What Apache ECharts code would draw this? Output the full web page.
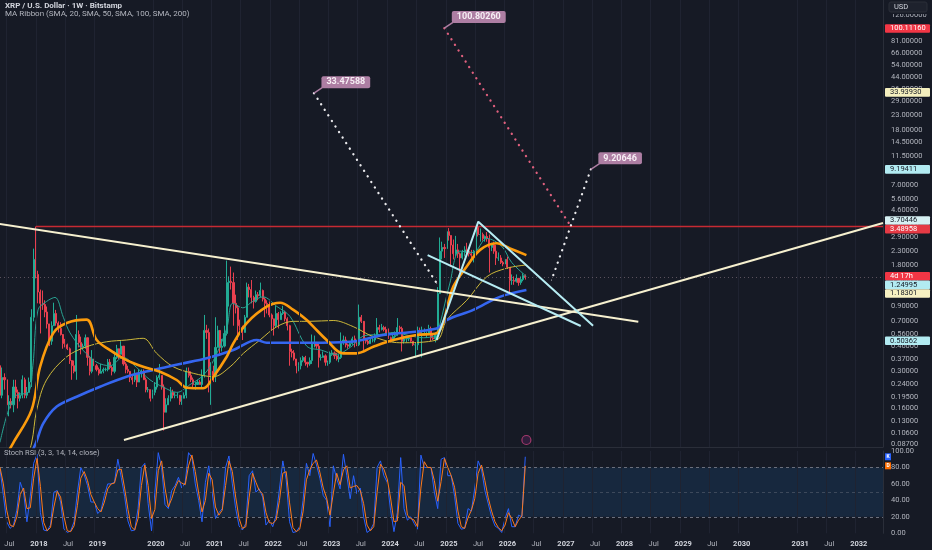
<!DOCTYPE html>
<html><head><meta charset="utf-8">
<script src="https://cdn.jsdelivr.net/npm/echarts@6/dist/echarts.min.js"></script>
<style>html,body{margin:0;padding:0;background:#161a25;}#c{width:932px;height:550px;}</style>
</head><body><div id="c"></div>
<script>
// ---------- DATA ----------
const candleStart = '2017-05-22';
const candleStepDays = 14;
const firstOpen = 0.33;
const closes = [
0.20,0.27,0.26,0.17,0.18,0.17,0.23,0.21,0.19,0.20,0.26,0.20,0.21,0.25,0.75,2.0,
1.55,1.15,0.95,0.93,0.82,0.67,0.50,0.65,0.80,0.68,0.62,0.56,0.48,0.47,0.44,0.36,0.33,0.30,0.56,0.49,0.45,0.46,0.53,0.38,0.30,0.37,0.33,
0.31,0.29,0.30,0.31,0.31,0.35,0.32,0.30,0.38,0.44,0.40,0.46,0.34,0.31,0.30,0.27,0.26,0.29,0.25,0.29,0.30,0.26,0.22,0.22,0.19,0.21,
0.23,0.27,0.28,0.23,0.15,0.17,0.19,0.21,0.20,0.20,0.20,0.18,0.19,0.20,0.30,0.28,0.26,0.24,0.24,0.25,0.24,0.28,0.60,0.58,0.28,0.30,
0.28,0.45,0.60,0.45,0.46,0.57,1.35,1.38,1.35,0.95,0.88,0.65,0.63,0.58,0.75,1.25,1.20,1.05,0.98,1.10,1.08,1.18,1.02,0.95,0.93,0.78,
0.73,0.65,0.80,0.72,0.80,0.82,0.73,0.65,0.42,0.41,0.37,0.33,0.33,0.36,0.38,0.35,0.34,0.36,0.48,0.49,0.46,0.38,0.38,0.39,0.35,0.35,
0.40,0.41,0.39,0.37,0.38,0.50,0.51,0.47,0.46,0.48,0.52,0.49,0.47,0.75,0.70,0.52,0.50,0.48,0.51,0.51,0.55,0.63,0.61,0.63,0.61,0.57,
0.53,0.50,0.54,0.55,0.63,0.62,0.50,0.52,0.52,0.53,0.50,0.47,0.47,0.60,0.57,0.57,0.57,0.57,0.62,0.53,0.52,0.55,1.12,2.30,2.45,2.40,
3.20,3.00,2.55,2.20,2.35,2.20,2.05,2.25,2.35,2.30,2.20,2.15,2.30,3.45,3.05,3.05,2.85,2.95,2.85,2.45,2.55,2.30,2.05,2.05,1.90,1.85,
2.00,1.75,1.40,1.40,1.38,1.45,1.35,1.42,1.52,1.48];
const highs = [
0.33,0.32,0.29,0.27,0.20,0.19,0.26,0.26,0.22,0.21,0.28,0.27,0.23,0.27,0.86,2.4,
3.49,1.65,1.20,1.18,1.00,0.90,0.66,0.70,0.96,0.85,0.70,0.69,0.55,0.52,0.48,0.45,0.35,0.36,0.78,0.60,0.54,0.48,0.56,0.53,0.39,0.43,0.38,
0.34,0.32,0.34,0.32,0.32,0.37,0.37,0.33,0.42,0.47,0.44,0.50,0.45,0.35,0.33,0.30,0.28,0.31,0.29,0.31,0.31,0.31,0.27,0.23,0.22,0.22,
0.25,0.28,0.34,0.28,0.24,0.19,0.20,0.23,0.22,0.21,0.21,0.20,0.20,0.21,0.32,0.32,0.30,0.27,0.25,0.26,0.26,0.31,0.78,0.66,0.62,0.35,
0.33,0.75,0.65,0.55,0.52,0.65,1.96,1.50,1.77,1.60,1.10,0.92,0.72,0.65,0.78,1.35,1.32,1.41,1.08,1.18,1.15,1.35,1.20,1.05,1.00,0.98,
0.80,0.68,0.91,0.82,0.83,0.91,0.84,0.75,0.66,0.44,0.43,0.37,0.35,0.38,0.39,0.39,0.35,0.38,0.56,0.55,0.49,0.48,0.40,0.42,0.40,0.36,
0.42,0.43,0.42,0.41,0.40,0.58,0.55,0.54,0.48,0.49,0.54,0.55,0.50,0.93,0.78,0.66,0.53,0.51,0.52,0.55,0.57,0.74,0.66,0.67,0.65,0.64,
0.62,0.54,0.56,0.59,0.74,0.65,0.64,0.55,0.54,0.54,0.53,0.50,0.49,0.64,0.63,0.64,0.62,0.59,0.66,0.64,0.56,0.58,1.25,2.90,2.70,2.60,
3.40,3.40,3.00,2.80,2.98,2.60,2.25,2.35,2.50,2.65,2.40,2.35,2.35,3.65,3.60,3.38,3.15,3.00,3.18,3.05,2.65,2.70,2.55,2.25,2.15,1.95,
2.40,2.10,1.75,1.55,1.50,1.55,1.45,1.50,1.58,1.55];
const lows = [
0.16,0.19,0.22,0.16,0.14,0.16,0.15,0.19,0.16,0.18,0.19,0.19,0.19,0.21,0.23,0.70,
1.45,0.95,0.57,0.85,0.75,0.62,0.46,0.47,0.73,0.65,0.58,0.55,0.44,0.45,0.43,0.34,0.26,0.29,0.26,0.45,0.40,0.44,0.44,0.33,0.28,0.29,0.32,
0.30,0.28,0.29,0.29,0.30,0.30,0.31,0.28,0.29,0.37,0.37,0.40,0.33,0.29,0.29,0.25,0.24,0.25,0.23,0.25,0.27,0.26,0.21,0.21,0.18,0.19,
0.20,0.22,0.26,0.22,0.11,0.15,0.17,0.18,0.19,0.19,0.19,0.17,0.17,0.19,0.19,0.27,0.25,0.23,0.22,0.24,0.24,0.23,0.27,0.52,0.21,0.17,
0.25,0.25,0.45,0.40,0.42,0.45,0.55,0.90,1.20,0.65,0.80,0.51,0.60,0.51,0.58,0.75,1.05,0.95,0.87,0.96,1.00,1.05,0.98,0.75,0.80,0.75,
0.60,0.55,0.63,0.62,0.72,0.78,0.70,0.60,0.33,0.38,0.36,0.29,0.30,0.31,0.35,0.33,0.32,0.33,0.34,0.45,0.44,0.32,0.36,0.38,0.33,0.33,
0.34,0.39,0.37,0.36,0.35,0.37,0.47,0.45,0.44,0.45,0.47,0.45,0.46,0.46,0.68,0.43,0.48,0.47,0.48,0.49,0.49,0.55,0.58,0.60,0.59,0.56,
0.52,0.49,0.50,0.52,0.55,0.57,0.42,0.48,0.49,0.50,0.49,0.46,0.38,0.43,0.55,0.38,0.55,0.53,0.56,0.50,0.51,0.49,0.55,1.35,2.00,2.05,
2.25,2.75,1.77,2.00,2.10,2.05,1.61,2.00,2.10,2.15,2.10,2.00,1.90,2.28,2.95,2.70,2.75,2.70,2.70,1.60,2.30,2.20,1.82,1.95,1.85,1.78,
1.82,1.70,1.12,1.30,1.30,1.35,1.28,1.30,1.38,1.42];

const sma20Pts = [['2017-05-22',0.09],['2017-07-10',0.15],['2017-09-01',0.2],['2017-11-15',0.21],['2017-12-13',0.33],['2018-01-14',0.85],['2018-03-08',0.98],['2018-04-30',1.05],['2018-06-21',0.75],['2018-08-02',0.575],['2018-10-21',0.43],['2019-01-15',0.35],['2019-04-08',0.33],['2019-06-28',0.38],['2019-09-21',0.32],['2019-12-13',0.26],['2020-03-04',0.23],['2020-05-29',0.21],['2020-08-20',0.24],['2020-11-09',0.28],['2021-01-12',0.36],['2021-04-05',0.62],['2021-05-12',0.95],['2021-07-14',0.88],['2021-09-13',0.98],['2021-11-17',1.06],['2022-02-12',0.9],['2022-05-05',0.76],['2022-08-17',0.46],['2022-11-15',0.43],['2023-02-15',0.40],['2023-05-15',0.45],['2023-08-15',0.55],['2023-11-15',0.56],['2024-02-15',0.58],['2024-05-15',0.55],['2024-08-15',0.53],['2024-11-04',0.56],['2024-11-24',0.66],['2025-01-26',1.34],['2025-03-29',2.3],['2025-06-20',2.25],['2025-09-13',2.85],['2025-12-15',2.5],['2026-02-15',1.9],['2026-05-18',1.5]];
const sma50Pts = [['2017-05-22',0.06],['2017-08-12',0.089],['2017-12-05',0.156],['2018-01-27',0.324],['2018-04-19',0.573],['2018-07-12',0.68],['2018-11-13',0.72],['2019-01-15',0.51],['2019-04-08',0.43],['2019-07-20',0.363],['2019-11-01',0.324],['2020-02-14',0.298],['2020-05-28',0.259],['2020-07-30',0.227],['2020-11-10',0.225],['2021-01-12',0.274],['2021-04-05',0.384],['2021-05-16',0.482],['2021-08-08',0.68],['2021-12-10',0.897],['2022-03-04',0.96],['2022-05-26',0.85],['2022-08-17',0.716],['2022-09-27',0.64],['2022-12-19',0.51],['2023-04-01',0.407],['2023-06-24',0.407],['2023-10-06',0.455],['2024-02-08',0.51],['2024-07-02',0.555],['2024-11-04',0.573],['2025-02-16',1.26],['2025-05-11',1.77],['2025-08-02',2.35],['2025-11-13',2.63],['2026-02-04',2.41],['2026-05-18',2.15]];
const sma100Pts = [['2017-10-01',0.05],['2017-12-05',0.089],['2018-01-06',0.156],['2018-03-08',0.259],['2018-07-12',0.384],['2018-11-13',0.455],['2019-03-18',0.495],['2019-07-20',0.51],['2019-11-01',0.525],['2020-01-24',0.407],['2020-05-07',0.324],['2020-09-09',0.29],['2021-01-12',0.274],['2021-04-26',0.324],['2021-07-18',0.407],['2021-10-29',0.51],['2022-02-12',0.64],['2022-05-26',0.70],['2022-09-06',0.70],['2023-01-29',0.71],['2023-06-03',0.64],['2023-10-06',0.54],['2024-03-20',0.487],['2024-11-04',0.51],['2025-01-06',0.716],['2025-05-11',1.00],['2025-09-13',1.49],['2026-01-14',1.72],['2026-05-18',1.82]];
const sma200Pts = [['2017-10-26',0.06],['2018-01-01',0.089],['2018-02-16',0.124],['2018-05-11',0.165],['2018-09-12',0.195],['2019-02-05',0.231],['2019-07-20',0.274],['2020-01-03',0.307],['2020-06-18',0.34],['2020-12-01',0.374],['2021-05-16',0.43],['2021-10-09',0.51],['2021-12-10',0.487],['2022-09-05',0.487],['2023-05-13',0.495],['2023-12-07',0.555],['2024-11-04',0.62],['2025-01-06',0.716],['2025-06-21',0.85],['2025-12-03',1.06],['2026-05-18',1.19]];

const stochStart = '2017-05-22';
const stochStepDays = 21;
const stochK = [78,46,14,6,10,28,62,50,14,45,85,96,25,4,3,10,50,52,38,5,1,3,14,50,80,71,58,38,38,24,28,46,60,60,62,90,68,45,15,3,4,30,80,85,36,3,50,98,80,35,30,52,58,68,55,62,98,92,60,40,14,62,82,50,18,25,30,80,94,60,30,9,4,12,70,76,50,54,44,10,16,8,22,54,88,65,14,1,2,8,40,85,70,97,83,67,46,40,8,82,66,54,96,70,42,70,48,55,20,1,4,12,80,88,70,62,28,2,25,92,30,16,20,12,5,95,80,80,80,50,30,90,92,70,70,45,12,5,6,30,27,55,88,78,52,36,20,9,6,1,18,30,8,8,22,20,93];
const stochD = [80,60,28,10,8,20,47,55,30,31,67,91,57,13,3,7,32,51,44,20,3,2,9,34,67,75,64,47,38,30,26,38,54,60,61,77,78,55,29,8,4,18,58,83,58,18,29,76,88,55,32,42,55,64,61,59,82,95,75,49,26,40,73,65,32,22,28,58,88,75,44,18,6,8,44,73,62,52,48,25,13,12,16,40,73,75,37,7,2,5,26,65,77,85,89,74,55,43,22,49,73,59,77,82,55,57,58,52,36,10,3,8,50,84,78,66,43,14,15,62,58,22,18,16,8,55,87,80,80,64,39,63,91,80,70,56,27,8,6,19,28,42,73,83,64,43,27,14,7,3,10,25,18,8,16,21,82];

const priceTicks = [126,100,81,66,54,44,36,29,23,18,14.5,11.5,9,7,5.6,4.6,3.6,2.9,2.3,1.8,1.4,1.1,0.9,0.7,0.56,0.46,0.37,0.3,0.24,0.195,0.16,0.13,0.106,0.087];
const timeTicks = ['2017-07-01','2018-01-01','2018-07-01','2019-01-01','2020-01-01','2020-07-01','2021-01-01','2021-07-01','2022-01-01','2022-07-01','2023-01-01','2023-07-01','2024-01-01','2024-07-01','2025-01-01','2025-07-01','2026-01-01','2026-07-01','2027-01-01','2027-07-01','2028-01-01','2028-07-01','2029-01-01','2029-07-01','2030-01-01','2031-01-01','2031-07-01','2032-01-01'];

const trendDown = [['2017-01-17',3.84],['2028-04-15',0.696]];
const trendUp = [['2019-07-04',0.0937],['2032-06-19',3.70446]];
const resistanceLevel = 3.48958;
const resistanceFrom = '2018-01-01';
const wedgeMain = [['2024-11-04',0.51],['2025-07-22',3.79],['2027-07-08',0.65]];
const wedgeInner = [['2024-09-09',2.15],['2027-04-22',0.647]];
const pathTo33 = [['2022-10-01',33.47588],['2024-11-04',1.34]];
const pathTo100 = [['2024-12-22',100.8026],['2027-02-20',3.49]];
const pathTo9 = [['2027-06-24',9.20646],['2026-10-22',1.41]];
const lastPrice = 1.48;
const eventIcon = ['2026-05-18',0.0937];

const scaleBoxes = [
  {v:100.1116, t:'100.11160', bg:'#f23645', fg:'#ffffff'},
  {v:33.9393, t:'33.93930', bg:'#f4efbe', fg:'#131722'},
  {v:9.19411, t:'9.19411', bg:'#b2ebf2', fg:'#131722'},
  {v:3.70446, t:'3.70446', bg:'#d6f1f4', fg:'#131722'},
  {v:3.48958, t:'3.48958', bg:'#e53a45', fg:'#ffffff'},
  {v:1.48, t:'4d 17h', bg:'#f23645', fg:'#ffffff'},
  {v:1.24995, t:'1.24995', bg:'#b2ebf2', fg:'#131722'},
  {v:1.18301, t:'1.18301', bg:'#f7f1c2', fg:'#131722'},
  {v:0.50362, t:'0.50362', bg:'#b2ebf2', fg:'#131722'}
];

// ---------- BUILD ----------
const DAY = 864e5;
const ts = s => Date.parse(s + 'T00:00:00Z');
const t0 = ts(candleStart);
const candles = closes.map((c, i) => {
  const o = i === 0 ? firstOpen : closes[i - 1];
  return [t0 + i * candleStepDays * DAY, o, c, lows[i], highs[i]];
});
const pts = a => a.map(p => [ts(p[0]), p[1]]);
const s0 = ts(stochStart);
const kData = stochK.map((v, i) => [s0 + i * stochStepDays * DAY, v]);
const dData = stochD.map((v, i) => [s0 + i * stochStepDays * DAY, v]);
const xMin = ts('2017-05-22'), xMax = ts('2032-06-19');
const FONT = 'Roboto, "Noto Sans", sans-serif';
const CALLOUT = '#ad7ea3';

const chart = echarts.init(document.getElementById('c'), null, {renderer: 'canvas'});
const vLines = timeTicks.map(d => ({xAxis: ts(d)}));
const dotted = (data, color, lbl) => ({
  type: 'line', xAxisIndex: 0, yAxisIndex: 0, data: data.map((p, i) => {
    const item = {value: [ts(p[0]), p[1]]};
    if (i === 0 && lbl) item.label = {show: true, position: 'right', distance: 7, offset: [0, -11], formatter: lbl,
      backgroundColor: CALLOUT, color: '#f6eef4', fontSize: 9, fontWeight: 'bold', fontFamily: FONT, padding: [2, 5, 1, 5], borderRadius: 2};
    return item;
  }),
  symbol: 'circle', symbolSize: 1, showSymbol: true, itemStyle: {color: color},
  lineStyle: {color: color, width: 2.3, type: [0.1, 6.5], cap: 'round'}, z: 6, silent: true
});
const solid = (data, color, w, z) => ({
  type: 'line', xAxisIndex: 0, yAxisIndex: 0, data: pts(data), showSymbol: false,
  lineStyle: {color: color, width: w}, z: z || 5, silent: true
});
const ma = (data, color, w) => ({
  type: 'line', xAxisIndex: 0, yAxisIndex: 0, data: pts(data), showSymbol: false, smooth: 0.35,
  lineStyle: {color: color, width: w}, z: 4, silent: true
});

const option = {
  backgroundColor: '#161a25',
  animation: false,
  grid: [
    {left: 0, right: 49, top: 0, height: 447},
    {left: 0, right: 49, top: 451, height: 82.3}
  ],
  xAxis: [
    {type: 'time', gridIndex: 0, min: xMin, max: xMax, axisLabel: {show: false}, axisTick: {show: false},
     axisLine: {show: true, lineStyle: {color: '#2a2e39'}}, splitLine: {show: false}},
    {type: 'time', gridIndex: 1, min: xMin, max: xMax, axisTick: {show: false}, axisLabel: {show: false},
     axisLine: {show: false}, splitLine: {show: false}}
  ],
  yAxis: [
    {type: 'log', logBase: 10, gridIndex: 0, position: 'right', min: 0.0832, max: 162.3,
     axisLabel: {show: false}, axisTick: {show: false}, splitLine: {show: false},
     axisLine: {show: true, lineStyle: {color: '#2a2e39'}}},
    {type: 'value', gridIndex: 1, position: 'right', min: 0, max: 100, interval: 20,
     axisLabel: {color: '#b2b5be', fontSize: 7.5, fontFamily: FONT, margin: 8, formatter: v => v.toFixed(2)},
     axisTick: {show: false}, splitLine: {show: false}, axisLine: {show: true, lineStyle: {color: '#2a2e39'}}}
  ],
  series: [
    {type: 'line', xAxisIndex: 0, yAxisIndex: 0, data: [], silent: true,
     markLine: {silent: true, symbol: 'none', label: {show: false}, lineStyle: {color: '#1f2331', width: 1, type: 'solid'}, data: vLines}},
    {type: 'line', xAxisIndex: 1, yAxisIndex: 1, data: [], silent: true,
     markLine: {silent: true, symbol: 'none', label: {show: false}, lineStyle: {color: '#1f2331', width: 1, type: 'solid'}, data: vLines}},
    {type: 'candlestick', xAxisIndex: 0, yAxisIndex: 0, data: candles, encode: {x: 0, y: [1, 2, 3, 4]},
     barWidth: 1.6, clip: true, silent: true, z: 3,
     itemStyle: {color: '#22ab94', color0: '#e8404f', borderColor: '#22ab94', borderColor0: '#e8404f', borderWidth: 1},
     markLine: {silent: true, symbol: 'none', label: {show: false},
       lineStyle: {color: 'rgba(150,130,140,0.55)', width: 1, type: [1, 3]}, data: [{yAxis: lastPrice}]}},
    ma(sma20Pts, '#2aa393', 1),
    ma(sma100Pts, '#cdb83a', 1),
    ma(sma200Pts, '#3566f0', 2.6),
    ma(sma50Pts, '#fb9b0c', 2.6),
    {type: 'line', xAxisIndex: 0, yAxisIndex: 0, data: [[ts(resistanceFrom), resistanceLevel], [xMax, resistanceLevel]],
     showSymbol: false, lineStyle: {color: '#c62a33', width: 1.5}, z: 5, silent: true},
    solid(trendDown, '#f6f0cf', 2),
    solid(trendUp, '#f6f0cf', 2),
    solid(wedgeMain, '#b6ecf3', 2),
    solid(wedgeInner, '#b6ecf3', 2),
    dotted(pathTo33, '#e9e9ec', '33.47588'),
    dotted(pathTo100, '#e0607e', '100.80260'),
    dotted(pathTo9, '#e9e9ec', '9.20646'),
    {type: 'scatter', xAxisIndex: 0, yAxisIndex: 0, data: [[ts(eventIcon[0]), eventIcon[1]]], symbol: 'circle', symbolSize: 9,
     itemStyle: {color: 'rgba(120,40,120,0.35)', borderColor: '#c2407a', borderWidth: 1.2}, silent: true, z: 7},
    {type: 'line', xAxisIndex: 1, yAxisIndex: 1, data: kData, showSymbol: false, lineStyle: {color: '#2962ff', width: 1}, z: 4, silent: true,
     markArea: {silent: true, itemStyle: {color: 'rgba(33,150,243,0.12)'}, data: [[{yAxis: 20}, {yAxis: 80}]]},
     markLine: {silent: true, symbol: 'none', label: {show: false}, lineStyle: {color: '#6b6f7c', width: 1, type: [3, 3]},
       data: [{yAxis: 80}, {yAxis: 50, lineStyle: {color: 'rgba(120,123,134,0.4)'}}, {yAxis: 20}]}},
    {type: 'line', xAxisIndex: 1, yAxisIndex: 1, data: dData, showSymbol: false, lineStyle: {color: '#ff7a1a', width: 1}, z: 5, silent: true}
  ]
};
chart.setOption(option);

// ---------- overlay texts positioned through the chart's own scales ----------
const gx = 883;
const g = [];
g.push({type: 'text', left: 5, top: 2, z: 100, style: {text: 'XRP / U.S. Dollar · 1W · Bitstamp', fill: '#d1d4dc', font: 'bold 8px ' + FONT}});
g.push({type: 'text', left: 5, top: 10, z: 100, style: {text: 'MA Ribbon (SMA, 20, SMA, 50, SMA, 100, SMA, 200)', fill: '#b2b5be', font: '8px ' + FONT}});
g.push({type: 'text', left: 4, top: 449, z: 100, style: {text: 'Stoch RSI (3, 3, 14, 14, close)', fill: '#b2b5be', font: '7.5px ' + FONT}});
// callout tails from each labelled point to its label box
[pathTo33, pathTo100, pathTo9].forEach(p => {
  const [x, y] = chart.convertToPixel({xAxisIndex: 0, yAxisIndex: 0}, [ts(p[0][0]), p[0][1]]);
  g.push({type: 'line', z: 40, shape: {x1: x, y1: y, x2: x + 9, y2: y - 6}, style: {stroke: CALLOUT, lineWidth: 1.5}});
});
// time-axis labels
timeTicks.forEach(d => {
  const x = chart.convertToPixel({xAxisIndex: 1}, ts(d));
  const jan = d.slice(5, 7) === '01';
  g.push({type: 'text', x: x + 3, y: 544, z: 50, style: {text: jan ? d.slice(0, 4) : 'Jul', fill: jan ? '#d1d4dc' : '#b2b5be',
    font: (jan ? 'bold ' : '') + '7.5px ' + FONT, align: 'center', verticalAlign: 'middle'}});
});
// price-axis labels
priceTicks.forEach(v => {
  const y = chart.convertToPixel({yAxisIndex: 0}, v);
  g.push({type: 'text', x: gx + 8, y: y, z: 50, style: {text: v.toFixed(5), fill: '#b2b5be', font: '7.5px ' + FONT, verticalAlign: 'middle'}});
});
// price-scale boxes, spread apart when they would overlap
const BH = 8.6;
const items = scaleBoxes.map(b => Object.assign({}, b, {y0: chart.convertToPixel({yAxisIndex: 0}, b.v)}));
items.sort((a, b) => a.y0 - b.y0);
let clusters = items.map(it => ({items: [it], sum: it.y0}));
let changed = true;
while (changed) {
  changed = false;
  clusters.forEach(c => { c.top = c.sum / c.items.length - BH * c.items.length / 2; });
  for (let i = 1; i < clusters.length; i++) {
    const a = clusters[i - 1], b = clusters[i];
    if (a.top + BH * a.items.length > b.top) { a.items = a.items.concat(b.items); a.sum += b.sum; clusters.splice(i, 1); changed = true; break; }
  }
}
clusters.forEach(c => { c.top = c.sum / c.items.length - BH * c.items.length / 2; c.items.forEach((it, k) => { it.y = c.top + BH * k + BH / 2; }); });
items.forEach(it => {
  g.push({type: 'rect', z: 60, shape: {x: gx + 2, y: it.y - BH / 2, width: 45, height: BH, r: 1}, style: {fill: it.bg}});
  g.push({type: 'text', z: 61, x: gx + 7, y: it.y, style: {text: it.t, fill: it.fg, font: '7.5px ' + FONT, verticalAlign: 'middle'}});
});
// K / D value markers
[[stochK[stochK.length - 1], '#2962ff', 'K'], [stochD[stochD.length - 1], '#ff6d00', 'D']].forEach(([v, c, t]) => {
  const y = chart.convertToPixel({yAxisIndex: 1}, v);
  g.push({type: 'rect', z: 60, shape: {x: gx + 2, y: y - 3.5, width: 6, height: 7}, style: {fill: c}});
  g.push({type: 'text', z: 61, x: gx + 5, y: y, style: {text: t, fill: '#ffffff', font: 'bold 5px ' + FONT, align: 'center', verticalAlign: 'middle'}});
});
// USD box
g.push({type: 'rect', z: 70, shape: {x: gx + 3, y: 0, width: 46, height: 14}, style: {fill: '#161a25'}});
g.push({type: 'rect', z: 71, shape: {x: gx + 6, y: 2, width: 38, height: 10, r: 2}, style: {fill: '#1e222d', stroke: '#2a2e39'}});
g.push({type: 'text', z: 72, x: gx + 11, y: 7, style: {text: 'USD', fill: '#d1d4dc', font: '7.5px ' + FONT, verticalAlign: 'middle'}});
chart.setOption({graphic: g});
</script>
</body></html>
